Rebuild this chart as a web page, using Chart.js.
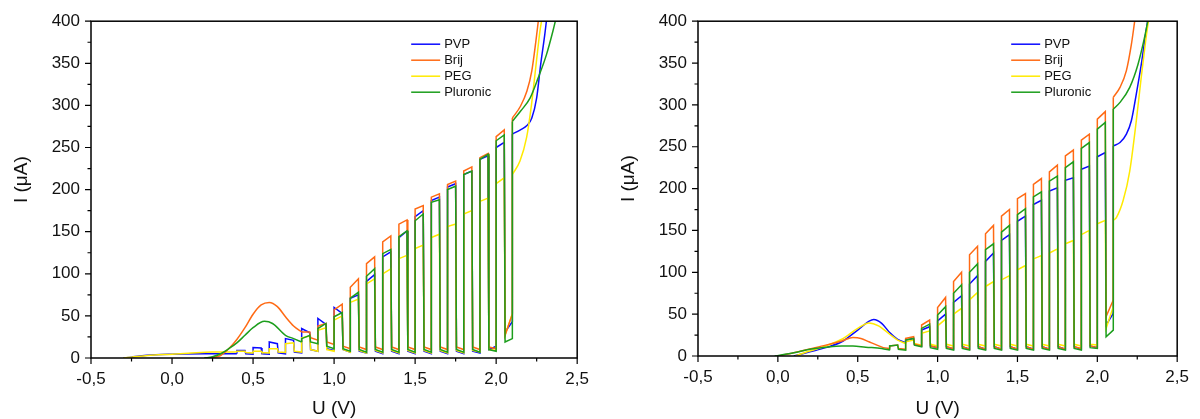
<!DOCTYPE html>
<html>
<head>
<meta charset="utf-8">
<title>Pulse voltammetry</title>
<script src="https://cdn.jsdelivr.net/npm/chart.js@4.4.1/dist/chart.umd.min.js"></script>
<style>
  html, body { margin: 0; padding: 0; background: #fff; }
  .panel { position: absolute; top: 0; width: 600px; height: 419px; }
</style>
</head>
<body>
<div class="panel" style="left:0"><canvas id="left" width="600" height="419"></canvas></div>
<div class="panel" style="left:600px"><canvas id="right" width="600" height="419"></canvas></div>
<script>
// Series names and colours (legend order)
const seriesNames = ['PVP', 'Brij', 'PEG', 'Pluronic'];
const seriesColors = ['#0a0aff', '#ff6a14', '#ffea00', '#1c9e1c'];
const drawOrder = [3, 1, 2, 0]; // Pluronic on top

// Pulse timing in volts
const PULSE_WIDTH = 0.05;
const FALL = 0.005;

// ---- left panel ----
// smooth part before pulsing: [U, I]
const leftPvpPre = [[-0.3, 0], [-0.25, 1], [-0.2, 2.5], [-0.1, 4], [0, 4.5], [0.2, 5], [0.4, 5]];
const leftBrijPre = [[0.2, 0], [0.25, 0.5], [0.3, 3], [0.35, 11], [0.4, 22], [0.45, 36], [0.5, 52], [0.55, 63], [0.6, 66], [0.65, 61], [0.7, 49], [0.75, 38], [0.8, 31]];
const leftPegPre = [[-0.3, 0], [-0.25, 1], [-0.15, 3], [0, 4.5], [0.1, 5.5], [0.25, 7], [0.4, 7]];
const leftPluPre = [[0.2, 0], [0.25, 1.5], [0.3, 5], [0.35, 11], [0.4, 18], [0.45, 27], [0.5, 36], [0.57, 43.5], [0.62, 41], [0.7, 27], [0.75, 23], [0.8, 19]];

// pulses: [U start, I at rise, I before fall, I after fall, I before next rise]
const leftPvpPulses = [
  [0.4, 9, 9, 5, 4.5], [0.5, 12.5, 12, 5, 4.5], [0.6, 19, 17, 6, 5], [0.7, 23, 21, 7, 6],
  [0.8, 35, 30, 10, 8], [0.9, 47, 40, 11, 9], [1.0, 60, 53, 10, 7], [1.1, 71, 75, 8, 6],
  [1.2, 91, 99, 8, 5], [1.3, 120, 126, 8, 5], [1.4, 143, 151, 8, 5], [1.5, 168, 175, 8, 5],
  [1.6, 187, 191, 8, 5], [1.7, 203, 207, 8, 5], [1.8, 218, 222, 8, 6], [1.9, 236, 240, 10, 14],
  [2.0, 250, 256, 31, 43]
];
const leftBrijPulses = [
  [0.8, 31, 31, 24, 21], [0.9, 38, 41, 19, 16], [1.0, 57, 64, 14, 11], [1.1, 84, 94, 13, 10],
  [1.2, 112, 120, 13, 10], [1.3, 138, 145, 13, 10], [1.4, 159, 164, 13, 10], [1.5, 177, 181, 13, 10],
  [1.6, 191, 195, 13, 10], [1.7, 206, 210, 13, 10], [1.8, 222, 227, 13, 10], [1.9, 238, 243, 13, 11],
  [2.0, 263, 271, 27, 52]
];
const leftPegPulses = [
  [0.4, 8, 8, 6.5, 6], [0.5, 8, 8, 6.5, 6], [0.6, 11, 11, 7, 6.5], [0.7, 17, 18, 8, 7],
  [0.8, 24, 26, 10, 8], [0.9, 33, 36, 10, 8], [1.0, 45, 50, 10, 7], [1.1, 66, 70, 9, 6],
  [1.2, 88, 94, 9, 6], [1.3, 100, 106, 9, 6], [1.4, 118, 122, 9, 6], [1.5, 130, 134, 9, 6],
  [1.6, 143, 147, 9, 6], [1.7, 156, 159, 9, 6], [1.8, 171, 175, 9, 7], [1.9, 186, 190, 10, 9],
  [2.0, 207, 214, 27, 53]
];
const leftPluPulses = [
  [0.8, 23, 27, 19, 17], [0.9, 35, 41, 14, 11], [1.0, 49, 54, 11, 8], [1.1, 71, 78, 10, 7],
  [1.2, 97, 106, 10, 7], [1.3, 124, 129, 10, 7], [1.4, 144, 151, 10, 7], [1.5, 163, 171, 10, 7],
  [1.6, 185, 188, 10, 7], [1.7, 200, 204, 10, 7], [1.8, 218, 222, 10, 7], [1.9, 236, 242, 10, 8],
  [2.0, 258, 265, 19, 23]
];

// continuous rise after the last pulse: [U, I]
const leftPvpPost = [[2.1, 266], [2.15, 271], [2.19, 276], [2.22, 285], [2.25, 309], [2.275, 349], [2.3, 384], [2.31, 400]];
const leftBrijPost = [[2.1, 285], [2.15, 299], [2.19, 317], [2.22, 341], [2.245, 376], [2.26, 400]];
const leftPegPost = [[2.1, 218], [2.147, 234], [2.188, 262], [2.218, 301], [2.249, 353], [2.27, 388], [2.28, 400]];
const leftPluPost = [[2.1, 281], [2.15, 293], [2.21, 309], [2.26, 333], [2.31, 360], [2.35, 388], [2.365, 400]];

// ---- right panel ----
const rightPvpPre = [[0.1, 0], [0.2, 5], [0.3, 10], [0.4, 17], [0.5, 31], [0.6, 43.5], [0.65, 39], [0.7, 28], [0.75, 20], [0.8, 16]];
const rightBrijPre = [[0, 0], [0.1, 4], [0.2, 8.5], [0.3, 13], [0.4, 18], [0.47, 22], [0.52, 21], [0.57, 17], [0.62, 13], [0.66, 10], [0.7, 9]];
const rightPegPre = [[0.11, 0], [0.2, 6], [0.3, 12], [0.4, 20], [0.5, 33], [0.57, 39.5], [0.63, 36], [0.7, 26], [0.75, 19], [0.8, 15]];
const rightPluPre = [[-0.02, 0], [0.1, 4], [0.2, 8], [0.3, 10.5], [0.4, 12], [0.47, 12], [0.55, 10.5], [0.65, 9], [0.7, 7]];

const rightPvpPulses = [
  [0.8, 19, 21, 14, 12], [0.9, 31, 35, 12, 10], [1.0, 42, 50, 11, 8], [1.1, 64, 72, 11, 8],
  [1.2, 86, 96, 11, 8], [1.3, 113, 123, 11, 8], [1.4, 138, 145, 11, 8], [1.5, 161, 167, 11, 8],
  [1.6, 181, 186, 11, 8], [1.7, 197, 201, 11, 8], [1.8, 210, 213, 11, 8], [1.9, 223, 227, 12, 10],
  [2.0, 238, 243, 37, 51]
];
const rightBrijPulses = [
  [0.7, 12, 13, 9, 8], [0.8, 21, 23, 14, 12], [0.9, 37, 43, 12, 10], [1.0, 58, 70, 11, 9],
  [1.1, 89, 100, 11, 8], [1.2, 121, 131, 11, 8], [1.3, 146, 156, 11, 8], [1.4, 167, 175, 11, 8],
  [1.5, 188, 194, 11, 8], [1.6, 205, 212, 11, 8], [1.7, 220, 228, 11, 8], [1.8, 239, 246, 11, 9],
  [1.9, 258, 265, 12, 10], [2.0, 283, 292, 47, 67]
];
const rightPegPulses = [
  [0.8, 17, 19, 15, 13], [0.9, 27, 30, 14, 12], [1.0, 36, 44, 14, 12], [1.1, 50, 57, 14, 12],
  [1.2, 67, 76, 14, 12], [1.3, 83, 89, 14, 12], [1.4, 91, 96, 14, 12], [1.5, 103, 108, 14, 12],
  [1.6, 116, 120, 14, 12], [1.7, 123, 128, 14, 12], [1.8, 134, 138, 14, 12], [1.9, 145, 150, 14, 13],
  [2.0, 158, 162, 33, 59]
];
const rightPluPulses = [
  [0.7, 12, 13, 8, 7], [0.8, 19, 21, 13, 11], [0.9, 33, 38, 10, 8], [1.0, 49, 59, 9, 7],
  [1.1, 75, 85, 9, 7], [1.2, 100, 110, 9, 7], [1.3, 127, 134, 9, 7], [1.4, 148, 156, 9, 7],
  [1.5, 169, 176, 9, 7], [1.6, 190, 196, 9, 7], [1.7, 209, 215, 9, 7], [1.8, 225, 232, 9, 7],
  [1.9, 248, 255, 10, 9], [2.0, 271, 279, 23, 31]
];

const rightPvpPost = [[2.1, 251], [2.142, 255], [2.182, 265], [2.213, 281], [2.244, 313], [2.275, 348], [2.305, 388], [2.315, 400]];
const rightBrijPost = [[2.1, 309], [2.142, 321], [2.182, 341], [2.213, 372], [2.234, 400]];
const rightPegPost = [[2.1, 162], [2.121, 166], [2.162, 186], [2.203, 221], [2.244, 281], [2.275, 333], [2.305, 380], [2.32, 400]];
const rightPluPost = [[2.1, 295], [2.142, 303], [2.203, 321], [2.254, 348], [2.295, 380], [2.316, 400]];

// axis ranges and ticks
const uMin = -0.5, uMax = 2.5, uStep = 0.25, uLabelStep = 0.5;
const iMin = 0, iMax = 400, iStep = 25, iLabelStep = 50;
const xTitle = 'U (V)';
const yTitle = 'I (\u03bcA)';

const FONT = '"Liberation Sans", Arial, Helvetica, sans-serif';

const toXY = pts => pts.map(([x, y]) => ({ x, y }));

// square-wave part: rise, sloped top, fall, relaxation, next rise
function pulsePoints(pre, pulses, post) {
  const pts = [];
  let level = pre[pre.length - 1][1];
  pulses.forEach(([u, top1, top2, low1, low2]) => {
    pts.push({ x: u, y: level }, { x: u, y: top1 },
             { x: u + PULSE_WIDTH, y: top2 }, { x: u + PULSE_WIDTH + FALL, y: low1 });
    level = low2;
  });
  pts.push({ x: post[0][0], y: level }, { x: post[0][0], y: post[0][1] });
  return pts;
}

function seriesDatasets(k, pre, pulses, post) {
  const base = {
    borderColor: seriesColors[k],
    borderWidth: 1.5,
    pointRadius: 0,
    fill: false,
    order: drawOrder[k]
  };
  return [
    { ...base, data: toXY(pre), cubicInterpolationMode: 'monotone' },
    { ...base, label: seriesNames[k], data: pulsePoints(pre, pulses, post), tension: 0 },
    { ...base, data: toXY(post), cubicInterpolationMode: 'monotone' }
  ];
}

const isMultiple = (v, step) => Math.abs(v / step - Math.round(v / step)) < 1e-6;

// frame, outward tick marks, axis titles and the inset legend
const panelDecor = {
  id: 'panelDecor',
  afterDraw(chart) {
    const { ctx, chartArea: a, scales: { x, y } } = chart;
    ctx.save();
    ctx.strokeStyle = '#000';
    ctx.lineWidth = 1.5;
    ctx.strokeRect(a.left, a.top, a.right - a.left, a.bottom - a.top);

    ctx.lineWidth = 1.2;
    ctx.beginPath();
    x.ticks.forEach(t => {
      const px = x.getPixelForValue(t.value);
      const len = isMultiple(t.value, uLabelStep) ? 6 : 3.5;
      ctx.moveTo(px, a.bottom);
      ctx.lineTo(px, a.bottom + len);
    });
    y.ticks.forEach(t => {
      const py = y.getPixelForValue(t.value);
      const len = isMultiple(t.value, iLabelStep) ? 6 : 3.5;
      ctx.moveTo(a.left, py);
      ctx.lineTo(a.left - len, py);
    });
    ctx.stroke();

    ctx.fillStyle = '#111';
    ctx.font = `19px ${FONT}`;
    ctx.textAlign = 'center';
    ctx.textBaseline = 'middle';
    ctx.fillText(xTitle, (a.left + a.right) / 2, 409);
    ctx.save();
    ctx.translate(a.left - 69, (a.top + a.bottom) / 2 - 10);
    ctx.rotate(-Math.PI / 2);
    ctx.fillText(yTitle, 0, 0);
    ctx.restore();

    ctx.font = `13px ${FONT}`;
    ctx.textAlign = 'left';
    ctx.lineWidth = 1.5;
    seriesNames.forEach((name, k) => {
      const ly = a.top + 23 + k * 16;
      ctx.strokeStyle = seriesColors[k];
      ctx.beginPath();
      ctx.moveTo(a.right - 166, ly);
      ctx.lineTo(a.right - 137, ly);
      ctx.stroke();
      ctx.fillText(name, a.right - 133, ly);
    });
    ctx.restore();
  }
};

function makePanel(id, datasets, axisW, axisH, padRight) {
  return new Chart(document.getElementById(id), {
    type: 'line',
    data: { datasets },
    options: {
      responsive: false,
      animation: false,
      events: [],
      layout: { padding: { top: 20, right: padRight, left: 0, bottom: 0 } },
      plugins: { legend: { display: false }, tooltip: { enabled: false } },
      scales: {
        x: {
          type: 'linear', min: uMin, max: uMax,
          grid: { display: false, drawTicks: false },
          border: { display: false },
          afterFit: s => { s.height = axisH; },
          ticks: {
            stepSize: uStep, autoSkip: false, maxRotation: 0, padding: 11,
            color: '#111', font: { family: FONT, size: 17 },
            callback: v => isMultiple(v, uLabelStep)
              ? (Math.abs(v) < 1e-9 ? 0 : v).toFixed(1).replace('.', ',') : ''
          }
        },
        y: {
          type: 'linear', min: iMin, max: iMax,
          grid: { display: false, drawTicks: false },
          border: { display: false },
          afterFit: s => { s.width = axisW; },
          ticks: {
            stepSize: iStep, autoSkip: false, padding: 11,
            color: '#111', font: { family: FONT, size: 17 },
            callback: v => isMultiple(v, iLabelStep) ? String(Math.round(v)) : ''
          }
        }
      }
    },
    plugins: [panelDecor]
  });
}

const leftSets = [
  ...seriesDatasets(0, leftPvpPre, leftPvpPulses, leftPvpPost),
  ...seriesDatasets(1, leftBrijPre, leftBrijPulses, leftBrijPost),
  ...seriesDatasets(2, leftPegPre, leftPegPulses, leftPegPost),
  ...seriesDatasets(3, leftPluPre, leftPluPulses, leftPluPost)
];
const rightSets = [
  ...seriesDatasets(0, rightPvpPre, rightPvpPulses, rightPvpPost),
  ...seriesDatasets(1, rightBrijPre, rightBrijPulses, rightBrijPost),
  ...seriesDatasets(2, rightPegPre, rightPegPulses, rightPegPost),
  ...seriesDatasets(3, rightPluPre, rightPluPulses, rightPluPost)
];

makePanel('left', leftSets, 91, 61, 19);
makePanel('right', rightSets, 98, 63, 15);
</script>
</body>
</html>
